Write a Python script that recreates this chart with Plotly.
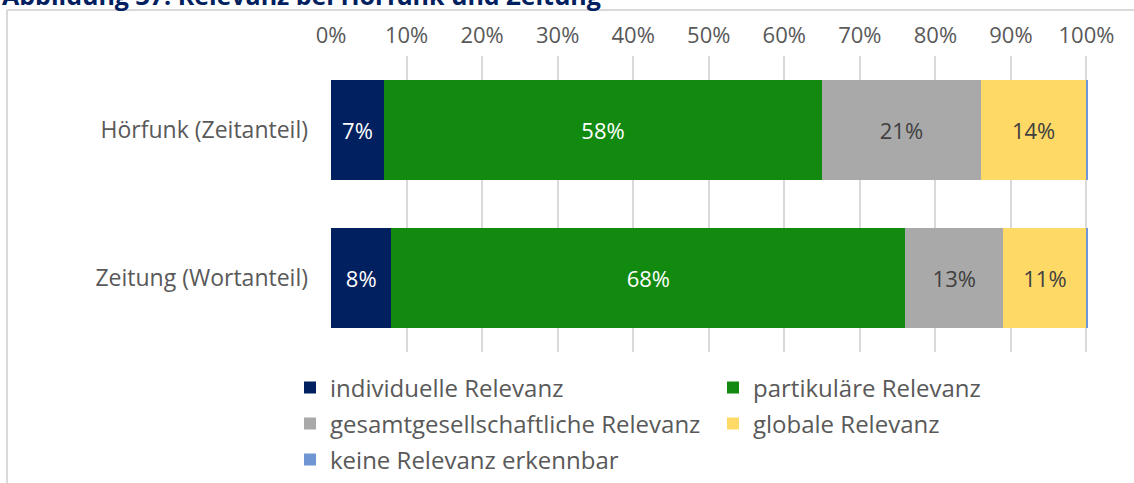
import plotly.graph_objects as go

# Kategorien (von oben nach unten) und Anteile je Relevanzstufe in Prozent
categories = ["Hörfunk (Zeitanteil)", "Zeitung (Wortanteil)"]
series_names = [
    "individuelle Relevanz",
    "partikuläre Relevanz",
    "gesamtgesellschaftliche Relevanz",
    "globale Relevanz",
    "keine Relevanz erkennbar",
]
individuelle = [7, 8]
partikulaere = [58, 68]
gesamtgesellschaftlich = [21, 13]
global_rel = [14, 11]
keine = [0.3, 0.3]
tick_values = [0, 10, 20, 30, 40, 50, 60, 70, 80, 90, 100]
tick_labels = ["0%", "10%", "20%", "30%", "40%", "50%", "60%", "70%", "80%", "90%", "100%"]

series_values = [individuelle, partikulaere, gesamtgesellschaftlich, global_rel, keine]
colors = ["#002060", "#128A0F", "#A9A9A9", "#FFD966", "#6F96D2"]
label_colors = ["#FFFFFF", "#FFFFFF", "#404040", "#404040", None]

FONT = "Open Sans"

# Plotbereich in Pixeln: x 331..1088, y 56..352
L, R, T, B = 331, 46, 56, 131
W, H = 1134, 483
pw, ph = W - L - R, H - T - B


def px(x):
    return (x - L) / pw


def py(y):
    return (H - B - y) / ph


# Legendenplätze: zwei Spalten, drei Zeilen
legend_ids = ["legend", "legend2", "legend3", "legend4", "legend5"]
legend_pos = [(290, 388), (713, 388), (290, 424), (713, 424), (290, 460)]

fig = go.Figure()
for name, vals, col, lcol, lid in zip(series_names, series_values, colors, label_colors, legend_ids):
    show_text = lcol is not None
    fig.add_trace(go.Bar(
        y=categories,
        x=vals,
        name=name,
        orientation="h",
        legend=lid,
        marker=dict(color=col, line=dict(width=0)),
        text=[f"{v:.0f}%" for v in vals] if show_text else None,
        textposition="inside" if show_text else "none",
        insidetextanchor="middle",
        textangle=0,
        textfont=dict(family=FONT, size=22, color=lcol if lcol else "#404040"),
        hoverinfo="skip",
    ))

legend_layout = {}
for lid, (lx, ly) in zip(legend_ids, legend_pos):
    legend_layout[lid] = dict(
        x=px(lx), xanchor="left",
        y=py(ly), yanchor="middle",
        bgcolor="rgba(0,0,0,0)",
        borderwidth=0,
        font=dict(family=FONT, size=24, color="#595959"),
        itemclick=False,
        itemdoubleclick=False,
    )

fig.update_layout(
    width=W,
    height=H,
    barmode="stack",
    bargap=0.33,
    margin=dict(l=L, r=R, t=T, b=B, autoexpand=False),
    paper_bgcolor="white",
    plot_bgcolor="white",
    font=dict(family=FONT, color="#595959"),
    xaxis=dict(
        side="top",
        range=[0, 100.2],
        tickvals=tick_values,
        ticktext=tick_labels,
        tickfont=dict(family=FONT, size=22, color="#595959"),
        ticklabelstandoff=8,
        showgrid=True,
        gridcolor="#D9D9D9",
        gridwidth=2,
        zeroline=False,
        showline=False,
        ticks="",
        fixedrange=True,
    ),
    yaxis=dict(
        categoryorder="array",
        categoryarray=categories[::-1],
        tickfont=dict(family=FONT, size=23, color="#595959"),
        ticklabelstandoff=22,
        ticks="",
        showgrid=False,
        zeroline=False,
        showline=False,
        fixedrange=True,
    ),
    showlegend=True,
    **legend_layout,
)

# Rahmenlinien des Diagrammbereichs (links und oben)
fig.add_shape(type="line", xref="paper", yref="paper",
              x0=px(7), x1=px(1134), y0=py(10), y1=py(10),
              line=dict(color="#D9D9D9", width=2), layer="below")
fig.add_shape(type="line", xref="paper", yref="paper",
              x0=px(7), x1=px(7), y0=py(10), y1=py(483),
              line=dict(color="#D9D9D9", width=2), layer="below")

# Überschrift
fig.add_annotation(
    text="<b>Abbildung 37: Relevanz bei Hörfunk und Zeitung</b>",
    xref="paper", yref="paper",
    x=px(0), y=py(14),
    xanchor="left", yanchor="bottom",
    showarrow=False,
    font=dict(family=FONT, size=25, color="#002060"),
)

fig.write_html("out.html")
